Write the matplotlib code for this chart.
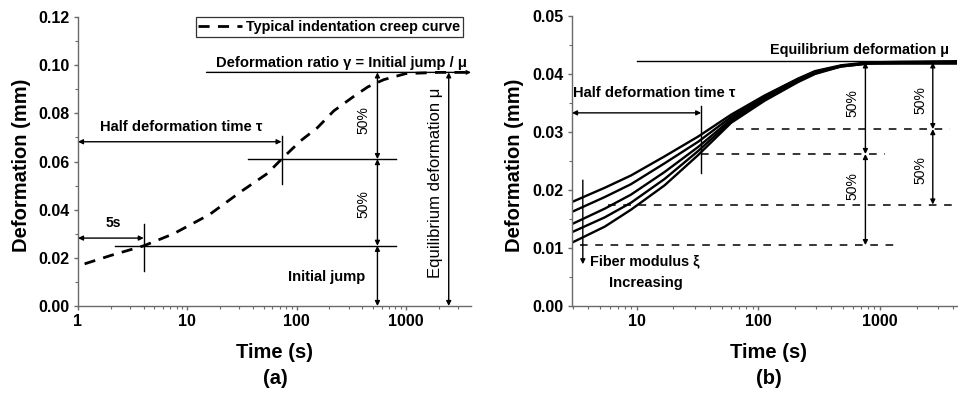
import matplotlib
matplotlib.use("Agg")
import matplotlib.pyplot as plt
from matplotlib.ticker import FixedLocator, LogLocator, MultipleLocator, NullFormatter

plt.rcParams['font.family'] = ['Liberation Sans', 'DejaVu Sans']
plt.rcParams['font.weight'] = 'bold'

# ---------------- data ----------------
# panel (a): typical indentation creep curve
time_a = [1.15, 2, 4, 7.5, 16, 31, 54, 73, 109, 155, 219, 333, 450, 630, 1000, 2000, 4000]
defo_a = [0.0175, 0.021, 0.025, 0.030, 0.038, 0.0475, 0.055, 0.061, 0.0686, 0.074,
          0.081, 0.087, 0.091, 0.094, 0.0965, 0.097, 0.097]

# panel (b): creep curves for increasing fiber modulus
time_b = [3, 5.5, 9, 17, 32, 60, 113, 212, 293, 480, 800, 1500, 4300]
curve_b1 = [0.0180, 0.0204, 0.0225, 0.0258, 0.0292, 0.0330, 0.0363, 0.0392, 0.0405, 0.0415, 0.0420, 0.0421, 0.0422]
curve_b2 = [0.0163, 0.0188, 0.0210, 0.0246, 0.0283, 0.0326, 0.0361, 0.0391, 0.0404, 0.0414, 0.0419, 0.0420, 0.0421]
curve_b3 = [0.0142, 0.0168, 0.0192, 0.0231, 0.0274, 0.0322, 0.0359, 0.0389, 0.0403, 0.0414, 0.0419, 0.0420, 0.0420]
curve_b4 = [0.0128, 0.0153, 0.0178, 0.0219, 0.0267, 0.0319, 0.0356, 0.0387, 0.0402, 0.0413, 0.0418, 0.0419, 0.0419]
curve_b5 = [0.0110, 0.0137, 0.0166, 0.0208, 0.0260, 0.0316, 0.0354, 0.0386, 0.0400, 0.0413, 0.0418, 0.0418, 0.0418]
curves_b = [curve_b1, curve_b2, curve_b3, curve_b4, curve_b5]

# key levels
a_initial_jump = 0.025
a_half = 0.061
a_equil = 0.097
a_t5 = 4
a_tau = 73
b_equil = 0.042
b_half_hi = 0.0305
b_half_lo = 0.0262
b_start_hi = 0.0175
b_start_lo = 0.0105
b_tau = 34

xticks_a = [1, 10, 100, 1000]
xticklabels_a = ['1', '10', '100', '1000']
yticks_a = [0.00, 0.02, 0.04, 0.06, 0.08, 0.10, 0.12]
xticks_b = [10, 100, 1000]
xticklabels_b = ['10', '100', '1000']
yticks_b = [0.00, 0.01, 0.02, 0.03, 0.04, 0.05]

# ---------------- figure ----------------
W, H = 958, 395
fig = plt.figure(figsize=(W / 100, H / 100), dpi=100)

def px_axes(l, r, t, b):
    return fig.add_axes([l / W, 1 - b / H, (r - l) / W, (b - t) / H])

axA = px_axes(78, 471, 17, 306)
axB = px_axes(572, 957, 16, 306)

spine_col = '#6a6a6a'
for ax in (axA, axB):
    ax.set_xscale('log')
    for s in ('top', 'right'):
        ax.spines[s].set_visible(False)
    for s in ('left', 'bottom'):
        ax.spines[s].set_color(spine_col)
        ax.spines[s].set_linewidth(1.0)
    ax.tick_params(which='major', direction='out', length=3, width=1, color=spine_col,
                   labelsize=11.5, pad=3)
    ax.tick_params(which='minor', direction='out', length=2, width=0.8, color=spine_col)
    ax.xaxis.set_minor_locator(LogLocator(base=10, subs=range(2, 10), numticks=20))
    ax.xaxis.set_minor_formatter(NullFormatter())

def dbl_arrow(ax, p0, p1, style='<|-|>', lw=1.0, ms=7):
    ax.annotate('', xy=p1, xytext=p0,
                arrowprops=dict(arrowstyle=style, color='black', lw=lw,
                                mutation_scale=ms, shrinkA=0, shrinkB=0))

ann_fs = 10.6
pct_fs = 10

# ---------- panel (a) ----------
axA.set_xlim(1, 3950)
axA.set_ylim(0, 0.12)
axA.xaxis.set_major_locator(FixedLocator(xticks_a))
axA.set_xticklabels(xticklabels_a, fontweight='bold')
axA.set_yticks(yticks_a)
axA.set_yticklabels([f'{v:.2f}' for v in yticks_a], fontweight='bold')
axA.yaxis.set_minor_locator(MultipleLocator(0.01))

axA.plot(time_a, defo_a, color='black', lw=2.0, linestyle=(0, (4, 3)),
         label='Typical indentation creep curve')
leg = axA.legend(loc='upper right', bbox_to_anchor=(0.98, 1.0), frameon=True,
                 fancybox=False, prop=dict(weight='bold', size=10.4),
                 handlelength=3.0, borderpad=0.2, handletextpad=0.3, borderaxespad=0)
leg.get_frame().set_edgecolor('black')
leg.get_frame().set_linewidth(0.9)

# crosshair at 5 s
axA.plot([a_t5, a_t5], [0.0145, 0.034], color='black', lw=1.0)
axA.plot([2.2, 810], [a_initial_jump, a_initial_jump], color='black', lw=1.0)
dbl_arrow(axA, (1, 0.0282), (a_t5, 0.0282))
axA.text(2.1, 0.0345, '5s', ha='center', va='center', fontsize=10, fontweight='bold')

# crosshair at tau
axA.plot([a_tau, a_tau], [0.0505, 0.0705], color='black', lw=1.0)
axA.plot([36, 810], [a_half, a_half], color='black', lw=1.0)
dbl_arrow(axA, (1, 0.0682), (a_tau, 0.0682))
axA.text(8.8, 0.0745, 'Half deformation time \u03c4', ha='center', va='center',
         fontsize=ann_fs, fontweight='bold')

# top equilibrium line
axA.annotate('', xy=(3950, a_equil), xytext=(15, a_equil), annotation_clip=False,
             arrowprops=dict(arrowstyle='-|>', color='black', lw=1.0,
                             mutation_scale=6, shrinkA=0, shrinkB=0))
axA.text(256, 0.1008, 'Deformation ratio \u03b3 = Initial jump / \u03bc', ha='center',
         va='center', fontsize=ann_fs, fontweight='bold')

# vertical 50% arrows
xa = 550
dbl_arrow(axA, (xa, a_equil), (xa, a_half))
dbl_arrow(axA, (xa, a_half), (xa, a_initial_jump))
dbl_arrow(axA, (xa, a_initial_jump), (xa, 0.0))
axA.text(410, 0.0773, '50%', rotation=90, ha='center', va='center', fontsize=pct_fs,
         fontweight='normal')
axA.text(410, 0.0424, '50%', rotation=90, ha='center', va='center', fontsize=pct_fs,
         fontweight='normal')
axA.text(190, 0.0121, 'Initial jump', ha='center', va='center', fontsize=ann_fs,
         fontweight='bold')

dbl_arrow(axA, (2470, a_equil), (2470, 0.0))
axA.text(1880, 0.0512, 'Equilibrium deformation \u03bc', rotation=90, ha='center',
         va='center', fontsize=12, fontweight='normal')

# ---------- panel (b) ----------
axB.set_xlim(2.95, 4300)
axB.set_ylim(0, 0.05)
axB.xaxis.set_major_locator(FixedLocator(xticks_b))
axB.set_xticklabels(xticklabels_b, fontweight='bold')
axB.set_yticks(yticks_b)
axB.set_yticklabels([f'{v:.2f}' for v in yticks_b], fontweight='bold')
axB.yaxis.set_minor_locator(MultipleLocator(0.005))

for c in curves_b:
    axB.plot(time_b, c, color='black', lw=1.7, solid_joinstyle='round')

axB.plot([10, 4300], [b_equil + 0.0002, b_equil + 0.0002], color='black', lw=1.0)
axB.text(675, 0.0441, 'Equilibrium deformation \u03bc', ha='center', va='center',
         fontsize=10.4, fontweight='bold')

dash = dict(color='black', lw=1.1, linestyle=(0, (5, 5)))
axB.plot([66, 3800], [b_half_hi, b_half_hi], **dash)
axB.plot([b_tau, 1100], [b_half_lo, b_half_lo], **dash)
axB.plot([5.8, 4300], [b_start_hi, b_start_hi], **dash)
axB.plot([3.4, 1320], [b_start_lo, b_start_lo], **dash)

axB.plot([b_tau, b_tau], [0.023, 0.0344], color='black', lw=1.0)
dbl_arrow(axB, (2.95, 0.0333), (b_tau, 0.0333))
axB.text(13.9, 0.0367, 'Half deformation time \u03c4', ha='center', va='center',
         fontsize=ann_fs, fontweight='bold')

dbl_arrow(axB, (760, b_equil), (760, b_half_lo))
dbl_arrow(axB, (760, b_half_lo), (760, b_start_lo))
dbl_arrow(axB, (2720, b_equil), (2720, b_half_hi))
dbl_arrow(axB, (2720, b_half_hi), (2720, b_start_hi))
for xp, yp in ((600, 0.0350), (600, 0.0206), (2140, 0.0355), (2140, 0.0234)):
    axB.text(xp, yp, '50%', rotation=90, ha='center', va='center', fontsize=pct_fs,
             fontweight='normal')

axB.annotate('', xy=(3.62, 0.0072), xytext=(3.62, 0.0217),
             arrowprops=dict(arrowstyle='-|>', color='black', lw=1.0,
                             mutation_scale=7, shrinkA=0, shrinkB=0))
axB.text(4.15, 0.0077, 'Fiber modulus \u03be', ha='left', va='center', fontsize=10.4,
         fontweight='bold')
axB.text(11.9, 0.0039, 'Increasing', ha='center', va='center', fontsize=10.6,
         fontweight='bold')

# ---------- axis titles ----------
for xc, yc in ((22, 165), (515, 165)):
    fig.text(xc / W, 1 - yc / H, 'Deformation (mm)', rotation=90, ha='center',
             va='center', fontsize=14.5, fontweight='bold')
fig.text(275 / W, 1 - 352 / H, 'Time (s)', ha='center', va='center', fontsize=14.5,
         fontweight='bold')
fig.text(275 / W, 1 - 378 / H, '(a)', ha='center', va='center', fontsize=14.5,
         fontweight='bold')
fig.text(768 / W, 1 - 352 / H, 'Time (s)', ha='center', va='center', fontsize=14.5,
         fontweight='bold')
fig.text(769 / W, 1 - 378 / H, '(b)', ha='center', va='center', fontsize=14.5,
         fontweight='bold')

fig.savefig('out.png', dpi=100)
